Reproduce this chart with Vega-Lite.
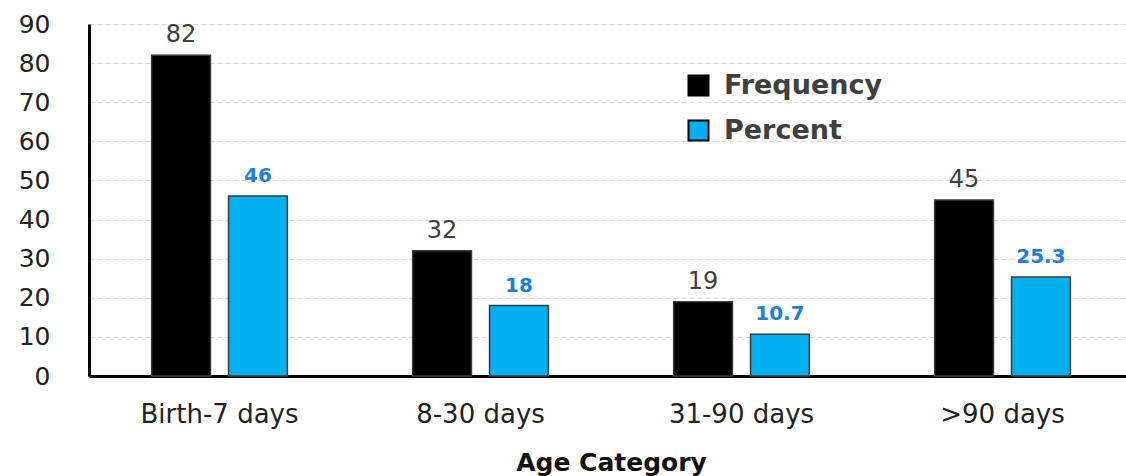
{
  "$schema": "https://vega.github.io/schema/vega-lite/v6.json",
  "autosize": {"type": "none"},
  "padding": {"left": 89, "top": 24, "right": 0, "bottom": 100},
  "width": 1044,
  "height": 352,
  "background": "white",
  "config": {
    "font": "DejaVu Sans",
    "view": {"stroke": null}
  },
  "data": {
    "values": [
      {"category": "Birth-7 days", "series": "Frequency", "value": 82},
      {"category": "Birth-7 days", "series": "Percent", "value": 46},
      {"category": "8-30 days", "series": "Frequency", "value": 32},
      {"category": "8-30 days", "series": "Percent", "value": 18},
      {"category": "31-90 days", "series": "Frequency", "value": 19},
      {"category": "31-90 days", "series": "Percent", "value": 10.7},
      {"category": ">90 days", "series": "Frequency", "value": 45},
      {"category": ">90 days", "series": "Percent", "value": 25.3}
    ]
  },
  "encoding": {
    "x": {
      "field": "category",
      "type": "nominal",
      "sort": ["Birth-7 days", "8-30 days", "31-90 days", ">90 days"],
      "scale": {"paddingInner": 0.48, "paddingOuter": 0.24},
      "axis": {
        "title": "Age Category",
        "titleFontSize": 25,
        "titleFontWeight": "bold",
        "titleColor": "#111111",
        "titlePadding": 23,
        "labelAngle": 0,
        "labelFontSize": 26,
        "labelColor": "#222222",
        "labelPadding": 25,
        "ticks": false,
        "domainColor": "#000000",
        "domainWidth": 3
      }
    },
    "xOffset": {
      "field": "series",
      "type": "nominal",
      "sort": ["Frequency", "Percent"],
      "scale": {"paddingInner": 0.235, "paddingOuter": 0}
    },
    "y": {
      "field": "value",
      "type": "quantitative",
      "scale": {"domain": [0, 90], "nice": false},
      "axis": {
        "title": null,
        "values": [0, 10, 20, 30, 40, 50, 60, 70, 80, 90],
        "labelFontSize": 25,
        "labelColor": "#222222",
        "labelPadding": 39,
        "ticks": false,
        "domainColor": "#000000",
        "domainWidth": 3,
        "gridColor": "#d9d9d9",
        "gridDash": [5, 3],
        "gridWidth": 1
      }
    }
  },
  "layer": [
    {
      "mark": {"type": "bar", "stroke": "#3a3a3a", "strokeWidth": 1.5},
      "encoding": {
        "color": {
          "field": "series",
          "type": "nominal",
          "scale": {"domain": ["Frequency", "Percent"], "range": ["#000000", "#00b0f0"]},
          "legend": {
            "title": null,
            "orient": "none",
            "legendX": 596,
            "legendY": 48,
            "symbolType": "square",
            "symbolSize": 400,
            "symbolStrokeColor": "#000000",
            "symbolStrokeWidth": 2,
            "labelFontSize": 27,
            "labelFontWeight": "bold",
            "labelColor": "#404040",
            "labelOffset": 12,
            "rowPadding": 16
          }
        }
      }
    },
    {
      "transform": [{"filter": "datum.series === 'Frequency'"}],
      "mark": {"type": "text", "baseline": "alphabetic", "dy": -13, "fontSize": 24, "color": "#404040"},
      "encoding": {"text": {"field": "value", "type": "quantitative"}}
    },
    {
      "transform": [{"filter": "datum.series === 'Percent'"}],
      "mark": {"type": "text", "baseline": "alphabetic", "dy": -14, "fontSize": 20, "fontWeight": "bold", "color": "#1f7fd6"},
      "encoding": {"text": {"field": "value", "type": "quantitative"}}
    }
  ]
}
